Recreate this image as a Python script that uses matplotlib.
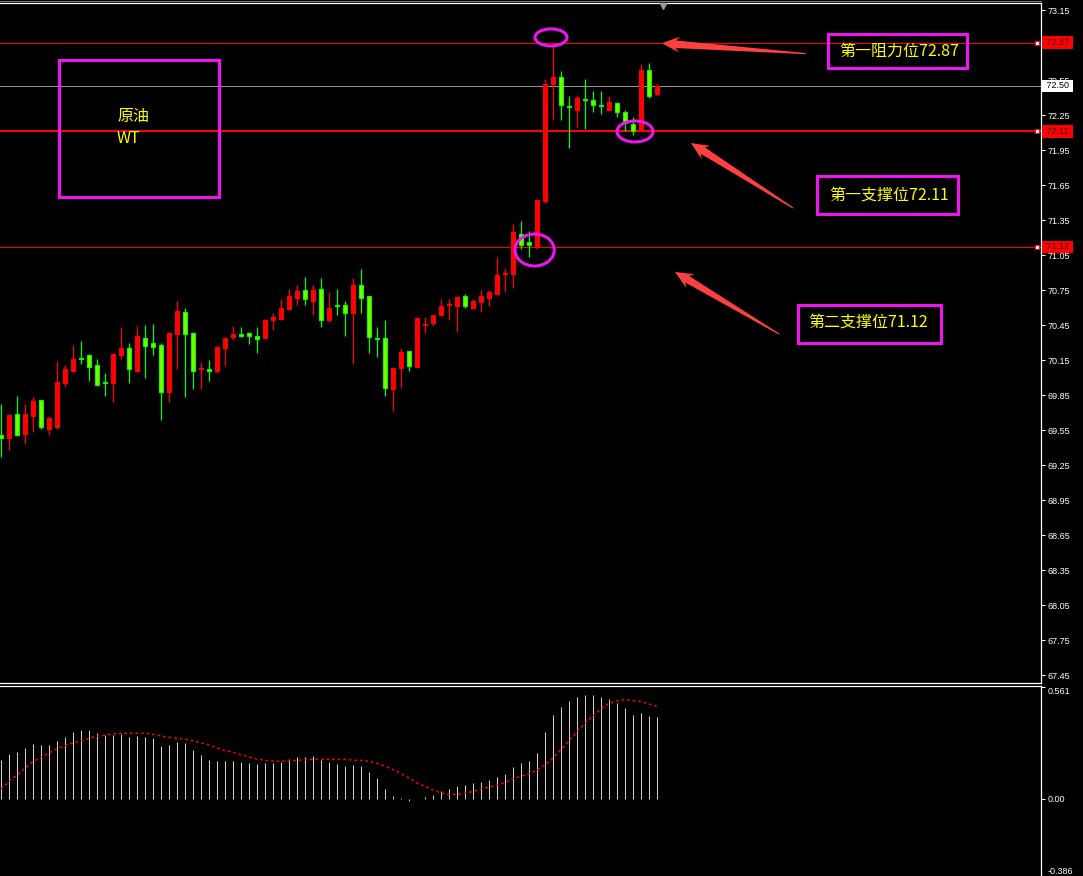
import numpy as np
import matplotlib
matplotlib.use("Agg")
import matplotlib.pyplot as plt
from matplotlib.patches import Rectangle, Ellipse
from matplotlib.lines import Line2D

plt.rcParams['font.family'] = ['Noto Sans CJK SC', 'DejaVu Sans']

# ---------------- data ----------------
opens = [69.51, 69.48, 69.69, 69.52, 69.67, 69.81, 69.56, 69.58, 69.95, 70.06,
         70.17, 70.19, 70.11, 69.96, 69.95, 70.19, 70.25, 70.06, 70.34, 70.30,
         70.28, 69.88, 70.37, 70.56, 70.38, 70.07, 70.07, 70.06, 70.25, 70.35,
         70.37, 70.38, 70.36, 70.34, 70.49, 70.50, 70.59, 70.68, 70.75, 70.66,
         70.76, 70.49, 70.62, 70.62, 70.55, 70.79, 70.70, 70.34, 70.34, 69.90,
         70.08, 70.23, 70.09, 70.45, 70.47, 70.54, 70.62, 70.61, 70.70, 70.60,
         70.65, 70.68, 70.72, 70.89, 70.89, 71.23, 71.16, 71.13, 71.51, 72.52,
         72.58, 72.33, 72.29, 72.39, 72.38, 72.34, 72.29, 72.35, 72.28, 72.17,
         72.11, 72.64, 72.43]
highs = [69.77, 69.69, 69.84, 69.77, 69.83, 69.81, 69.67, 70.14, 70.11, 70.28,
         70.31, 70.20, 70.16, 70.04, 70.21, 70.43, 70.30, 70.44, 70.45, 70.46,
         70.30, 70.39, 70.66, 70.60, 70.39, 70.13, 70.15, 70.27, 70.35, 70.44,
         70.43, 70.39, 70.43, 70.50, 70.55, 70.67, 70.76, 70.79, 70.86, 70.79,
         70.85, 70.73, 70.76, 70.66, 70.85, 70.93, 70.70, 70.43, 70.49, 70.09,
         70.25, 70.23, 70.52, 70.52, 70.54, 70.67, 70.67, 70.70, 70.72, 70.67,
         70.75, 70.75, 71.03, 70.94, 71.32, 71.34, 71.26, 71.53, 72.56, 72.87,
         72.63, 72.41, 72.42, 72.56, 72.46, 72.46, 72.41, 72.36, 72.29, 72.23,
         72.69, 72.70, 72.52]
lows = [69.32, 69.38, 69.50, 69.43, 69.53, 69.56, 69.51, 69.56, 69.92, 70.05,
        70.12, 69.97, 69.93, 69.84, 69.79, 70.16, 69.95, 70.05, 70.00, 70.19,
        69.64, 69.79, 70.07, 69.83, 69.90, 69.90, 69.97, 70.04, 70.10, 70.32,
        70.35, 70.29, 70.21, 70.34, 70.41, 70.49, 70.58, 70.62, 70.62, 70.54,
        70.43, 70.48, 70.54, 70.36, 70.12, 70.55, 70.21, 70.18, 69.84, 69.71,
        69.91, 70.06, 70.09, 70.38, 70.44, 70.53, 70.49, 70.39, 70.60, 70.59,
        70.56, 70.61, 70.71, 70.73, 70.77, 71.10, 71.03, 71.10, 71.50, 72.21,
        72.21, 71.97, 72.15, 72.13, 72.28, 72.26, 72.29, 72.23, 72.11, 72.08,
        72.11, 72.40, 72.41]
closes = [69.48, 69.68, 69.51, 69.69, 69.80, 69.58, 69.65, 69.96, 70.07, 70.16,
          70.16, 70.09, 69.94, 69.95, 70.20, 70.25, 70.07, 70.36, 70.27, 70.26,
          69.88, 70.38, 70.57, 70.37, 70.06, 70.08, 70.06, 70.26, 70.34, 70.37,
          70.36, 70.36, 70.33, 70.49, 70.52, 70.60, 70.70, 70.74, 70.67, 70.75,
          70.49, 70.60, 70.61, 70.55, 70.79, 70.68, 70.35, 70.33, 69.91, 70.08,
          70.22, 70.10, 70.51, 70.46, 70.54, 70.61, 70.63, 70.69, 70.61, 70.66,
          70.70, 70.73, 70.88, 70.90, 71.25, 71.14, 71.14, 71.52, 72.52, 72.58,
          72.34, 72.32, 72.40, 72.38, 72.34, 72.33, 72.36, 72.28, 72.18, 72.11,
          72.64, 72.41, 72.50]

macd_hist = [0.195, 0.225, 0.235, 0.256, 0.276, 0.271, 0.271, 0.291, 0.311, 0.336,
             0.346, 0.346, 0.331, 0.321, 0.321, 0.326, 0.311, 0.316, 0.311, 0.306,
             0.266, 0.271, 0.286, 0.281, 0.245, 0.220, 0.195, 0.190, 0.190, 0.190,
             0.185, 0.180, 0.175, 0.180, 0.180, 0.185, 0.200, 0.210, 0.210, 0.215,
             0.195, 0.185, 0.175, 0.165, 0.170, 0.165, 0.135, 0.105, 0.050, 0.015,
             0.005, -0.010, 0.000, 0.010, 0.020, 0.040, 0.050, 0.065, 0.070, 0.080,
             0.085, 0.095, 0.110, 0.125, 0.160, 0.180, 0.190, 0.230, 0.336, 0.421,
             0.461, 0.491, 0.511, 0.521, 0.521, 0.511, 0.501, 0.481, 0.456, 0.421,
             0.431, 0.416, 0.411]
macd_signal = [0.050, 0.087, 0.120, 0.154, 0.187, 0.209, 0.230, 0.251, 0.267, 0.281,
               0.291, 0.304, 0.314, 0.321, 0.326, 0.329, 0.329, 0.329, 0.329, 0.324,
               0.316, 0.309, 0.304, 0.299, 0.291, 0.281, 0.271, 0.256, 0.242, 0.234,
               0.222, 0.210, 0.200, 0.194, 0.190, 0.189, 0.190, 0.194, 0.195, 0.199,
               0.199, 0.199, 0.199, 0.199, 0.194, 0.194, 0.189, 0.179, 0.164, 0.147,
               0.129, 0.104, 0.080, 0.063, 0.045, 0.030, 0.023, 0.023, 0.028, 0.038,
               0.050, 0.058, 0.070, 0.082, 0.100, 0.114, 0.125, 0.145, 0.170, 0.204,
               0.247, 0.292, 0.337, 0.379, 0.418, 0.451, 0.479, 0.491, 0.498, 0.494,
               0.488, 0.476, 0.463]

price_ticks = [67.45, 67.75, 68.05, 68.35, 68.65, 68.95, 69.25, 69.55, 69.85,
               70.15, 70.45, 70.75, 71.05, 71.35, 71.65, 71.95, 72.25, 72.55,
               72.85, 73.15]
macd_ticks = [0.561, 0.0, -0.386]
macd_tick_labels = ['0.561', '0.00', '-0.386']

resistance_1 = 72.87
support_1 = 72.11
support_2 = 71.12
last_price = 72.50

title_lines = ['原油', 'WT']
level_texts = ['第一阻力位72.87', '第一支撑位72.11', '第二支撑位71.12']

# ---------------- styling ----------------
UP = '#ff0000'
DOWN_EDGE = '#00ff00'
DOWN_FACE = '#7cfc00'
MAGENTA = '#f014f0'
YELLOW = '#ffff00'
ARROW = '#ff4040'
AXIS_FONT = 'Liberation Sans'
PX = 0.72  # one pixel in points at 100 dpi

W, H = 1083, 876
fig = plt.figure(figsize=(W / 100, H / 100), dpi=100, facecolor='black')
ax = fig.add_axes([0, 193 / H, 1041 / W, 680 / H], facecolor='black')
mx = fig.add_axes([0, 0, 1041 / W, 190 / H], facecolor='black')

x = np.arange(len(opens))
o = np.array(opens); c = np.array(closes)
hi = np.array(highs); lo = np.array(lows)
up = c >= o

XLIM = (-0.125, 130.0)
ax.set_xlim(*XLIM)
ax.set_ylim(67.382, 73.210)
mx.set_xlim(*XLIM)
mx.set_ylim(-0.386, 0.566)

# ---------------- candles ----------------
wick_colors = np.where(up, UP, DOWN_EDGE)
ax.vlines(x, lo, hi, colors=wick_colors, lw=0.9, zorder=3)
body_bottom = np.minimum(o, c)
body_height = np.abs(c - o)
ax.bar(x[up], body_height[up], bottom=body_bottom[up], width=0.5,
       color=UP, edgecolor=UP, lw=0.8, zorder=4)
ax.bar(x[~up], body_height[~up], bottom=body_bottom[~up], width=0.5,
       color=DOWN_FACE, edgecolor=DOWN_EDGE, lw=0.8, zorder=4)

# ---------------- level lines ----------------
for lvl, lw in ((resistance_1, PX), (support_1, 2 * PX), (support_2, PX)):
    ax.axhline(lvl, color='#ff0000', lw=lw, snap=True, zorder=2)
    ax.plot([129.5], [lvl], marker='s', ms=3.5, mfc='white', mec='#ff0000',
            mew=0.7, clip_on=False, zorder=5)
ax.axhline(last_price, color='#8c96a8', lw=PX, snap=True, zorder=2)

# ---------------- axes / ticks ----------------
for a in (ax, mx):
    a.yaxis.tick_right()
    a.set_xticks([])
    a.spines['left'].set_visible(False)
    for s in ('right', 'top', 'bottom'):
        a.spines[s].set_color('white')
        a.spines[s].set_linewidth(0.9)
    a.tick_params(axis='y', colors='white', length=3, width=0.8, pad=1.5,
                  labelsize=6.5, direction='out')
mx.spines['bottom'].set_visible(False)

ax.set_yticks(price_ticks)
ax.set_yticklabels([f'{v:.2f}' for v in price_ticks], fontfamily=AXIS_FONT)
mx.set_yticks(macd_ticks)
mlabels = mx.set_yticklabels(macd_tick_labels, fontfamily=AXIS_FONT)
mlabels[0].set_va('top')
mlabels[2].set_va('bottom')

# price flags on the axis
for lvl, fc, tc in ((resistance_1, '#ff0000', '#3a0000'),
                    (support_1, '#ff0000', '#3a0000'),
                    (support_2, '#ff0000', '#3a0000'),
                    (last_price, '#ffffff', '#000000')):
    ax.annotate(f' {lvl:.2f} ', xy=(1.0, lvl), xycoords=('axes fraction', 'data'),
                xytext=(2.2, 0), textcoords='offset points', ha='left', va='center',
                fontsize=6.5, fontfamily=AXIS_FONT, color=tc,
                bbox=dict(boxstyle='square,pad=0.2', fc=fc, ec='none'),
                annotation_clip=False, zorder=10)

# window top border and chart shift marker
fig.add_artist(Line2D([0, 1041 / W], [1 - 1 / H, 1 - 1 / H], color='#7a7a7a', lw=0.8))
ax.plot([82.75], [73.184], marker='v', ms=5, color='#9a9a9a', clip_on=False, zorder=6)

# ---------------- MACD pane ----------------
mx.vlines(x, 0, macd_hist, colors='#d0d0d0', lw=PX, zorder=3)
mx.plot(x, macd_signal, color='#ff0000', lw=1.0, ls=(0, (2, 2)), zorder=4)

# ---------------- annotations ----------------
ax.add_patch(Rectangle((7.25, 71.548), 20.0, 1.174, fill=False, ec=MAGENTA, lw=2.2, zorder=6))
ax.text(14.5, 72.233, title_lines[0], color=YELLOW, fontsize=11.5, ha='left', va='center', zorder=7)
ax.text(14.5, 72.045, title_lines[1], color=YELLOW, fontsize=11.5, ha='left', va='center', zorder=7)

for (cx, cy, w, h) in ((68.75, 72.915, 4.0, 0.146),
                       (79.25, 72.109, 4.5, 0.18),
                       (66.7, 71.093, 4.9, 0.274)):
    ax.add_patch(Ellipse((cx, cy), w, h, fill=False, ec=MAGENTA, lw=2.2, zorder=7))

boxes = [((103.34, 72.656), 17.37, 0.286, (104.75, 72.80)),
         ((101.96, 71.399), 17.70, 0.328, (103.5, 71.565)),
         ((99.59, 70.299), 17.91, 0.323, (100.9, 70.479))]
for (xy, w, h, tpos), label in zip(boxes, level_texts):
    ax.add_patch(Rectangle(xy, w, h, fill=False, ec=MAGENTA, lw=2.2, zorder=6))
    ax.text(tpos[0], tpos[1], label, color=YELLOW, fontsize=11.5, ha='left',
            va='center', zorder=7)


def tapered_arrow(axis, tail, tip, head_len=18.0, head_half=8.0, neck_half=3.8,
                  tail_half=0.6, color=ARROW):
    """Draw a tapering arrow; geometry is built in pixels, then mapped back to data."""
    p0 = axis.transData.transform(tail)
    p1 = axis.transData.transform(tip)
    d = p1 - p0
    u = d / np.hypot(*d)
    n = np.array([-u[1], u[0]])
    barb = p1 - u * head_len
    neck = p1 - u * (head_len - 4)
    pts = np.array([p0 + n * tail_half, neck + n * neck_half, barb + n * head_half,
                    p1, barb - n * head_half, neck - n * neck_half, p0 - n * tail_half])
    data_pts = axis.transData.inverted().transform(pts)
    axis.fill(data_pts[:, 0], data_pts[:, 1], color=color, lw=0, zorder=8, clip_on=False)


tapered_arrow(ax, (100.6, 72.776), (82.6, 72.865))
tapered_arrow(ax, (99.0, 71.453), (86.25, 72.010))
tapered_arrow(ax, (97.25, 70.373), (84.25, 70.905))

fig.savefig('out.png', dpi=100, facecolor='black')
